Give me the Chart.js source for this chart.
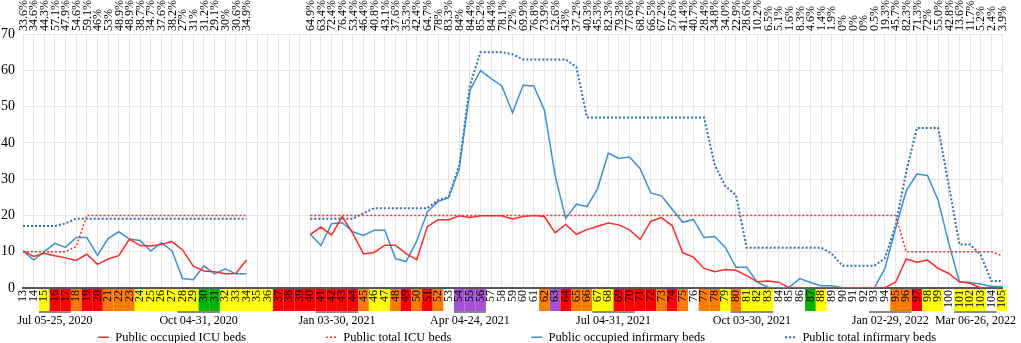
<!DOCTYPE html>
<html>
<head>
<meta charset="utf-8">
<script src="https://cdn.jsdelivr.net/npm/chart.js@4.4.1/dist/chart.umd.min.js"></script>
<style>
  html, body { margin: 0; padding: 0; background: #fff; }
  #wrap { width: 1021px; height: 343px; }
</style>
</head>
<body>
<div id="wrap"><canvas id="chart" width="1021" height="343"></canvas></div>
<script>
// epidemiological weeks (x categories)
const weeks = ['13','14','15','16','17','18','19','20','21','22','23','24','25','26','27','28','29','30','31','32','33','34',
  '35','36','37','38','39',
  '40','41','42','43','44','45','46','47','48','49','50','51','52','53','54','55','56','57','58','59','60','61','62','63','64','65',
  '66','67','68','69','70','71','72','73','74','75','76','77','78','79','80','81','82','83','84','85','86','87','88','89','90','91',
  '92','93','94','95','96','97','98','99','100','101','102','103','104','105']

// percentages shown above the plot
const pctLabels = ['33.6%','34.6%','44.3%','57.1%','47.9%','54.6%','59.1%','46%','53%','48.9%','48.9%','38.7%','34.7%','37.6%',
  '38.2%','27%','31%','31.2%','29.1%','30%','30.6%','34.9%',
  '','','','','',
  '64.9%','63.4%','72.4%','76.4%','53.4%','46.4%','40.8%','43.1%','37.6%','35.3%','42.4%','64.7%','78%','83.3%','84%','84.4%',
  '85.2%','84.4%','78.1%','72%','69.9%','76.8%','73.9%','52.6%','43%','37.2%','40.3%','45.3%','82.3%','79.3%','77.6%','68.7%',
  '66.5%','67.2%','57.6%','41.4%','40.7%','28.4%','34.8%','34.0%','22.9%','28.6%','10.2%','6.5%','5.1%','1.6%','8.3%','4.6%',
  '1.4%','1.9%','0%','0%','0%','0.5%','19.3%','45.7%','82.3%','71.3%','72%','55.0%','42.8%','13.6%','11.7%','5.2%','2.4%','3.9%']

// alert level of each week: w white, y yellow, o orange, r red, g green, p purple
const weekLevels = ['w','w','y','r','r','o','r','r','o','o','o','y','y','y','y','y','y','g','g','y','y','y',
  'y','y','r','r','r',
  'r','r','r','r','r','o','y','y','o','r','o','r','o','w','p','p','p','w','w','w','w','w','o','p','r','o',
  'o','y','y','r','r','r','r','o','r','o','w','o','o','y','o','y','y','y','w','w','w','g','y','w','w','w',
  'w','w','w','o','o','r','y','y','w','y','y','y','w','y']

const occupiedICU = [10.2, 8.7, 9.6, 8.9, 8.3, 7.6, 9.3, 6.5, 8.0, 8.9, 13.5, 11.7, 11.6, 12.0, 12.8, 10.5, 6.0, 4.7, 4.5, 3.9, 4.0, 7.7,
  null, null, null, null, null,
  14.8, 16.8, 14.6, 19.7, 15.0, 9.4, 9.8, 11.8, 11.8, 9.5, 7.8, 16.9, 18.8, 18.8, 19.9, 19.4, 19.9, 19.9, 19.9, 19.0, 19.7, 20, 19.7,
  15.2, 17.5, 14.8, 16.1, 17.0, 17.9, 17.4, 16.0, 13.4, 18.4, 19.4,
  17.2, 9.7, 8.5, 5.4, 4.5, 5.1, 4.9, 3.4, 1.7, 1.9, 1.6, 0.1, 0, 0, 0, 0, 0, 0, 0, 0, 0.1, 1.6, 8.0, 7.1, 7.7, 5.4, 4.0, 1.7, 1.3, 0, 0, 0]

const totalICU = [10, 10, 10, 10, 10, 11.4, 20, 20, 20, 20, 20, 20, 20, 20, 20, 20, 20, 20, 20, 20, 20, 20,
  null, null, null, null, null,
  20, 20, 20, 20, 20, 20, 20, 20, 20, 20, 20, 20, 20, 20, 20, 20, 20, 20, 20, 20, 20, 20, 20,
  20, 20, 20, 20, 20, 20, 20, 20, 20, 20, 20,
  20, 20, 20, 20, 20, 20, 20, 20, 20, 20, 20, 20, 20, 20, 20, 20, 20, 20, 20, 20, 20, 20, 10, 10, 10, 10, 10, 10, 10, 10, 10, 8.9]

const occupiedInf = [10.2, 7.7, 10.0, 12.3, 11.2, 13.9, 13.9, 9.0, 13.6, 15.5, 13.5, 13.1, 10.2, 12.5, 10.2, 2.6, 2.3, 6.1, 3.9, 5.3, 3.9, 3.9,
  null, null, null, null, null,
  14.8, 11.7, 17.7, 18.0, 15.5, 14.5, 15.9, 15.9, 8.1, 7.3, 12.9, 21.0, 23.8, 24.9, 32.9, 54.5, 59.9, 57.7, 55.7, 48.3, 55.9, 55.7, 49.0,
  31.1, 19.2, 23.1, 22.4, 27.4, 37.2, 35.7, 36.1, 32.9, 26.2, 25.4,
  21.7, 18.1, 18.9, 13.9, 14.2, 11.2, 5.7, 5.7, 1.6, 0.2, 0, 0.2, 2.6, 1.5, 0.6, 0.6, 0.1, 0, 0, 0, 5.4, 16.4, 26.8, 31.4, 31.0, 24.2, 12.3, 1.7, 1.5, 1.1, 0.4, 0.4]

const totalInf = [17.1, 17.1, 17.1, 17.1, 17.8, 19.1, 19.1, 19.1, 19.1, 19.1, 19.1, 19.1, 19.1, 19.1, 19.1, 19.1, 19.1, 19.1, 19.1, 19.1, 19.1, 19.1,
  null, null, null, null, null,
  19.1, 19.1, 19.1, 19.1, 19.1, 20.6, 22, 22, 22, 22, 22, 22, 24.2, 25.1, 33.9, 55.9, 65, 65, 65, 64.4, 63, 63, 63,
  63, 63, 60.9, 47, 47, 47, 47, 47, 47, 47, 47,
  47, 47, 47, 47, 33.9, 28.1, 25.6, 11.1, 11.1, 11.1, 11.1, 11.1, 11.1, 11.1, 11.1, 9.5, 6.1, 6.1, 6.1, 6.1, 8.2, 17.3, 32, 44.1, 44.1, 44.1, 28.3, 12.0, 12.0, 9.1, 1.9, 1.9]

// periods marked under the week band
const periodNames = ['Jul 05-25, 2020', 'Oct 04-31, 2020', 'Jan 03-30, 2021', 'Apr 04-24, 2021',
  'Jul 04-31, 2021', 'Oct 03-30, 2021', 'Jan 02-29, 2022', 'Mar 06-26, 2022']
const periodFrom = ['15', '28', '41', '54', '67', '80', '93', '101']
const periodTo = ['17', '31', '44', '56', '70', '83', '96', '104']

const levelColors = { w: null, y: '#ffff00', o: '#ff7b00', r: '#ff0000', g: '#00b400', p: '#a352d6' }
const SERIF = "'Liberation Serif', 'Times New Roman', serif"
const RED = '#ff2b2b'
const BLUE = '#3a8fd4'
const BLUE_DARK = '#2f70b0'
const LEGEND_PAD = 80

Chart.defaults.font.family = SERIF
Chart.defaults.color = '#000'

// coloured week cells, brackets and period names below the x axis
const weekBand = {
    id: 'weekBand',
    beforeDraw(chart) {
        const { ctx, chartArea, scales } = chart
        const x = scales.x
        const step = x.getPixelForValue(1) - x.getPixelForValue(0)
        const top = chartArea.bottom + 1
        const h = 22
        ctx.save()
        weekLevels.forEach((lv, i) => {
            const c = levelColors[lv]
            if (!c) return
            const cx = x.getPixelForValue(i)
            ctx.fillStyle = c
            ctx.fillRect(cx - step / 2, top, step, h)
        })
        ctx.strokeStyle = '#8a8a8a'
        ctx.lineWidth = 2
        ctx.fillStyle = '#000'
        ctx.font = '12px ' + SERIF
        ctx.textAlign = 'center'
        ctx.textBaseline = 'middle'
        periodNames.forEach((name, k) => {
            const a = x.getPixelForValue(weeks.indexOf(periodFrom[k])) - step / 2
            const b = x.getPixelForValue(weeks.indexOf(periodTo[k])) + step / 2
            ctx.beginPath()
            ctx.moveTo(a, top + h + 1)
            ctx.lineTo(b, top + h + 1)
            ctx.stroke()
            ctx.fillText(name, (a + b) / 2, top + h + 10)
        })
        ctx.restore()
    }
}

// legend padding is also used vertically: raise the box top so the row lands at the bottom,
// and nudge the row a bit to the right like in the original
const legendLift = {
    id: 'legendLift',
    afterLayout(chart) {
        const lg = chart.legend
        lg.top -= LEGEND_PAD - 3
        lg.left += 16
        lg.right += 16
    }
}

new Chart(document.getElementById('chart'), {
    type: 'line',
    data: {
        labels: weeks,
        datasets: [
            { label: 'Public occupied ICU beds', data: occupiedICU, borderColor: RED, borderWidth: 1.5 },
            { label: 'Public total ICU beds', data: totalICU, borderColor: RED, borderWidth: 1.5, borderDash: [2, 2] },
            { label: 'Public occupied infirmary beds', data: occupiedInf, borderColor: BLUE, borderWidth: 1.5 },
            { label: 'Public total infirmary beds', data: totalInf, borderColor: BLUE_DARK, borderWidth: 2, borderDash: [2, 2] }
        ]
    },
    options: {
        responsive: false,
        animation: false,
        spanGaps: false,
        elements: { point: { radius: 0 }, line: { tension: 0 } },
        layout: { padding: { left: 0, right: 19, top: 0, bottom: 0 } },
        scales: {
            x: {
                type: 'category',
                grid: { color: '#e6e6e6', drawTicks: false },
                border: { color: '#555', width: 2 },
                ticks: { autoSkip: false, minRotation: 90, maxRotation: 90, padding: 2, font: { size: 12 } },
                afterFit: (s) => { s.height = 40 }
            },
            x2: {
                type: 'category',
                position: 'top',
                labels: pctLabels,
                grid: { display: false, drawTicks: false },
                border: { display: false },
                ticks: { autoSkip: false, minRotation: 90, maxRotation: 90, padding: 3, labelOffset: 15, font: { size: 12 } },
                afterFit: (s) => { s.height = 34 }
            },
            y: {
                min: 0,
                max: 70,
                grid: { color: '#e6e6e6', drawTicks: false },
                border: { display: false },
                ticks: { stepSize: 10, padding: 8, font: { size: 14 } },
                afterFit: (s) => { s.width = 23 }
            }
        },
        plugins: {
            legend: {
                position: 'bottom',
                maxHeight: 15,
                labels: {
                    usePointStyle: true,
                    pointStyle: 'line',
                    pointStyleWidth: 11,
                    padding: LEGEND_PAD,
                    font: { size: 12.5 },
                    color: '#000',
                    // point style legends take the point's style; use the line's dash and width instead
                    generateLabels(chart) {
                        const items = Chart.defaults.plugins.legend.labels.generateLabels(chart)
                        items.forEach((it) => {
                            const ds = chart.data.datasets[it.datasetIndex]
                            it.lineDash = ds.borderDash || []
                            it.lineWidth = ds.borderWidth
                            it.strokeStyle = ds.borderColor
                        })
                        return items
                    }
                }
            },
            tooltip: { enabled: false }
        }
    },
    plugins: [weekBand, legendLift]
})
</script>
</body>
</html>
